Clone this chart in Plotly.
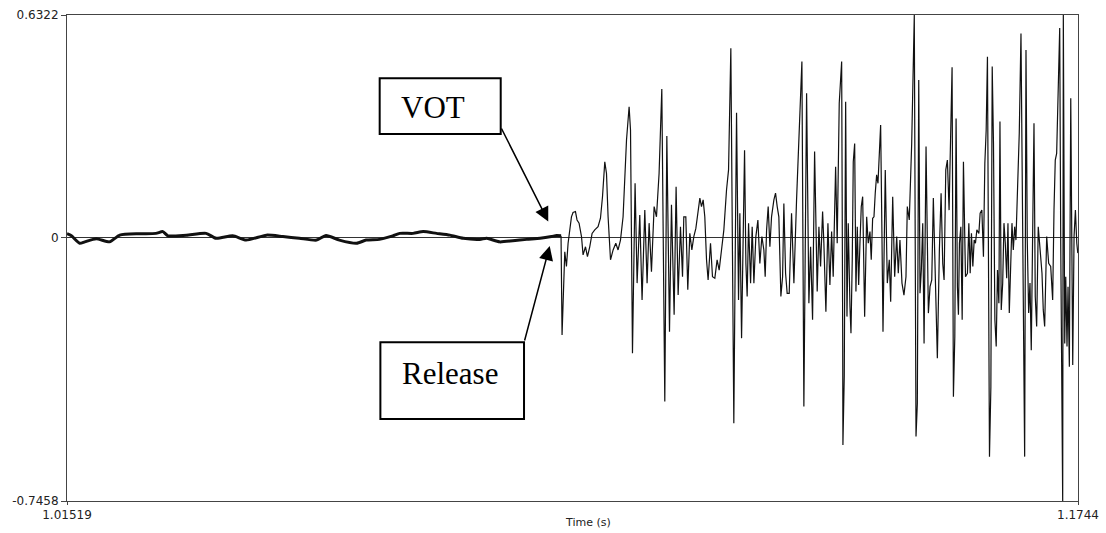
import plotly.graph_objects as go

# Waveform window (seconds)
T_START = 1.01519
T_END = 1.1744
AMP_MIN = -0.7458
AMP_MAX = 0.6322

# Stop closure: low-level noise before the release, time in ms from T_START
closure_ms = [0.0, 0.7, 2.0, 2.8, 4.6, 6.7, 8.3, 11.4, 14.0, 15.1,
              15.9, 18.8, 21.9, 23.5, 26.1, 28.2, 31.4, 34.0, 36.6, 39.3,
              40.8, 42.9, 45.6, 47.1, 49.2, 51.3, 52.4, 54.5, 56.1, 58.2,
              60.3, 62.4, 65.0, 66.1, 68.1, 70.2, 72.4, 74.5, 76.3, 77.1,
              77.8]
closure_amp = [0.012, 0.006, -0.015, -0.011, -0.002, -0.011, 0.008, 0.012, 0.013, 0.018,
               0.006, 0.008, 0.013, -0.001, 0.006, -0.006, 0.008, 0.004, -0.001, -0.006,
               0.007, -0.006, -0.015, -0.006, -0.004, 0.006, 0.013, 0.013, 0.018, 0.013,
               0.008, -0.001, -0.004, -0.001, -0.011, -0.008, -0.004, -0.001, 0.004, 0.007,
               0.006]

# Release burst and voicing: turning points of the waveform, time in ms from T_START
burst_ms = [77.96, 78.39, 78.65, 78.91, 79.17, 79.44, 79.69, 80.07, 80.32, 80.64,
            81.02, 81.27, 81.65, 81.96, 82.32, 82.69, 83.11, 83.63, 84.01, 84.33,
            84.69, 84.96, 85.21, 85.59, 86.00, 86.42, 86.78, 87.16, 87.57, 88.11,
            88.52, 88.74, 89.05, 89.46, 89.78, 90.20, 90.56, 90.99, 91.35, 91.67,
            92.04, 92.46, 92.83, 93.24, 93.67, 93.98, 94.14, 94.46, 94.88, 95.19,
            95.61, 95.92, 96.24, 96.61, 96.93, 97.13, 97.45, 97.76, 98.08, 98.40,
            98.71, 99.03, 99.39, 99.66, 99.92, 100.18, 100.44, 100.71, 100.96, 101.34,
            101.65, 102.02, 102.38, 102.70, 103.07, 103.44, 103.86, 104.18, 104.54, 104.81,
            105.01, 105.22, 105.44, 105.75, 105.96, 106.23, 106.48, 106.70, 106.91, 107.11,
            107.33, 107.65, 107.90, 108.17, 108.48, 108.80, 109.11, 109.43, 109.74, 109.95,
            110.17, 110.42, 110.69, 110.95, 111.32, 111.58, 111.84, 112.10, 112.42, 112.69,
            112.89, 113.16, 113.41, 113.73, 114.10, 114.47, 114.89, 115.30, 115.73, 116.04,
            116.47, 116.83, 117.10, 117.41, 117.73, 118.14, 118.41, 118.67, 118.99, 119.19,
            119.51, 119.83, 120.14, 120.41, 120.66, 121.04, 121.29, 121.61, 121.99, 122.15,
            122.19, 122.40, 122.62, 122.83, 123.03, 123.30, 123.46, 123.66, 123.82, 124.04,
            124.24, 124.45, 124.67, 124.87, 125.08, 125.30, 125.61, 125.93, 126.18, 126.45,
            126.65, 126.87, 127.08, 127.28, 127.50, 127.71, 127.91, 128.13, 128.34, 128.50,
            128.86, 129.18, 129.49, 129.71, 130.03, 130.34, 130.66, 130.91, 131.17, 131.49,
            131.80, 132.12, 132.33, 132.64, 133.02, 133.43, 133.70, 133.91, 134.13, 134.33,
            134.54, 134.76, 134.97, 135.28, 135.49, 135.65, 135.91, 136.18, 136.43, 136.70,
            137.06, 137.38, 137.65, 137.91, 138.12, 138.39, 138.64, 138.91, 139.18, 139.38,
            139.59, 139.81, 140.01, 140.22, 140.38, 140.54, 140.76, 140.97, 141.17, 141.49,
            141.80, 142.02, 142.23, 142.43, 142.65, 142.86, 143.06, 143.28, 143.60, 143.80,
            144.07, 144.32, 144.54, 144.75, 144.95, 145.17, 145.27, 145.49, 145.70, 145.90,
            146.12, 146.33, 146.53, 146.75, 146.92, 147.12, 147.35, 147.55, 147.76, 147.98,
            148.18, 148.39, 148.61, 148.81, 149.02, 149.24, 149.44, 149.65, 149.96, 150.23,
            150.50, 150.70, 150.81, 151.02, 151.22, 151.44, 151.65, 151.85, 152.07, 152.28,
            152.48, 152.70, 152.95, 153.22, 153.54, 153.74, 153.96, 154.28, 154.59, 154.91,
            155.22, 155.43, 155.63, 155.85, 156.06, 156.33, 156.49, 156.58, 156.80, 156.90,
            157.12, 157.28, 157.48, 157.64, 157.85, 158.07, 158.27, 158.38, 158.59, 158.80,
            159.02, 159.18]
burst_amp = [-0.275, -0.039, -0.081, -0.015, 0.023, 0.060, 0.072, 0.075, 0.051, 0.042,
             0.004, -0.048, -0.025, -0.053, -0.025, 0.013, 0.023, 0.032, 0.056, 0.117,
             0.216, 0.183, 0.060, -0.062, -0.034, -0.015, -0.034, -0.006, 0.060, 0.278,
             0.372, 0.306, -0.327, 0.155, -0.128, 0.065, -0.176, 0.079, -0.128, 0.042,
             -0.096, 0.089, 0.060, 0.183, 0.422, -0.195, -0.464, 0.289, -0.266, 0.094,
             -0.218, 0.145, -0.162, 0.032, -0.110, 0.060, 0.060, -0.147, 0.013, -0.034,
             0.004, 0.027, 0.079, 0.113, 0.089, 0.108, 0.060, -0.062, -0.119, -0.015,
             -0.110, -0.114, -0.062, -0.091, -0.034, 0.023, 0.136, 0.193, 0.538, 0.023,
             -0.525, -0.072, 0.355, -0.176, 0.070, -0.284, 0.023, 0.249, -0.072, -0.166,
             0.042, -0.128, 0.032, -0.128, 0.004, 0.051, -0.072, 0.004, -0.034, -0.110,
             0.023, 0.089, -0.025, 0.060, 0.108, 0.127, 0.089, 0.060, -0.166, -0.110,
             0.098, -0.100, -0.157, -0.157, 0.070, -0.128, 0.108, 0.278, 0.500, -0.478,
             0.410, -0.185, -0.025, -0.232, 0.245, -0.152, 0.032, -0.081, 0.075, -0.015,
             -0.209, 0.042, -0.133, 0.018, -0.110, 0.202, -0.015, 0.382, 0.500, -0.251,
             -0.587, -0.393, 0.386, -0.223, 0.042, -0.195, -0.270, -0.062, 0.216, 0.268,
             -0.152, 0.032, -0.133, -0.015, 0.089, 0.117, -0.223, 0.060, -0.015, 0.018,
             -0.062, 0.056, 0.060, 0.127, 0.179, 0.155, 0.240, 0.320, 0.004, -0.266,
             0.193, -0.128, -0.062, -0.181, 0.117, -0.110, 0.004, -0.100, -0.006, -0.128,
             -0.162, -0.110, 0.089, 0.051, 0.268, 0.6322, -0.563, -0.469, 0.448, -0.157,
             -0.091, 0.042, -0.299, 0.259, -0.015, -0.213, -0.138, -0.119, 0.113, -0.091,
             -0.341, -0.034, 0.127, -0.072, -0.119, 0.193, 0.221, 0.079, 0.278, 0.484,
             -0.450, -0.280, 0.339, -0.138, -0.218, -0.015, 0.032, -0.232, 0.216, -0.110,
             -0.100, 0.042, -0.100, 0.013, -0.081, -0.006, -0.015, 0.023, 0.013, 0.070,
             0.079, -0.053, 0.212, 0.306, 0.514, -0.251, -0.620, -0.422, 0.486, 0.268,
             -0.232, -0.308, -0.091, -0.185, 0.330, -0.204, -0.128, 0.042, -0.015, -0.114,
             0.042, -0.213, -0.053, 0.042, -0.034, 0.032, -0.006, 0.117, 0.297, 0.580,
             0.004, -0.431, -0.620, 0.533, -0.006, -0.213, -0.128, -0.318, 0.051, 0.325,
             -0.166, -0.251, 0.032, -0.025, -0.100, -0.204, -0.251, 0.004, -0.072, -0.081,
             -0.176, 0.079, 0.221, 0.240, 0.429, 0.595, -0.015, -0.337, -0.7458, 0.6322,
             -0.299, -0.110, -0.308, -0.138, -0.365, 0.396, -0.062, -0.360, 0.004, 0.079,
             -0.015, -0.043]

assert len(closure_ms) == len(closure_amp)
assert len(burst_ms) == len(burst_amp)

x_tick_vals = [T_START, T_END]
x_tick_text = ["1.01519", "1.1744"]
y_tick_vals = [AMP_MIN, 0, AMP_MAX]
y_tick_text = ["-0.7458", "0", "0.6322"]

closure_t = [T_START + m / 1000.0 for m in closure_ms]
# the burst continues from the last closure sample
burst_t = [closure_t[-1]] + [T_START + m / 1000.0 for m in burst_ms]
burst_y = [closure_amp[-1]] + burst_amp

fig = go.Figure()
fig.add_trace(go.Scatter(x=closure_t, y=closure_amp, mode="lines",
                         line=dict(color="#111111", width=3, shape="spline", smoothing=0.6),
                         hoverinfo="skip"))
fig.add_trace(go.Scatter(x=burst_t, y=burst_y, mode="lines",
                         line=dict(color="#111111", width=1.2), hoverinfo="skip"))

axis_color = "#444444"
tick_font = dict(family="DejaVu Sans", size=12, color="#222222")

fig.update_layout(
    width=1106, height=533,
    margin=dict(l=67, r=28, t=15, b=32, autoexpand=False),
    plot_bgcolor="white", paper_bgcolor="white",
    showlegend=False,
    xaxis=dict(range=[T_START, T_END], tickvals=x_tick_vals, ticktext=x_tick_text,
               ticks="outside", ticklen=3, tickcolor=axis_color, automargin=False,
               showline=True, linecolor=axis_color, linewidth=1, mirror=True,
               showgrid=False, zeroline=False, tickfont=tick_font),
    yaxis=dict(range=[AMP_MIN, AMP_MAX], tickvals=y_tick_vals, ticktext=y_tick_text,
               ticks="outside", ticklen=5, tickcolor=axis_color, automargin=False,
               showline=True, linecolor=axis_color, linewidth=1, mirror=True,
               showgrid=False, zeroline=True, zerolinecolor="#333333", zerolinewidth=1,
               tickfont=tick_font),
)

# Axis title
fig.add_annotation(text="Time (s)", xref="paper", yref="paper", x=0.515, y=-0.045,
                   xanchor="center", yanchor="middle", showarrow=False,
                   font=dict(family="DejaVu Sans", size=11, color="#222222"))

# Label boxes
box_line = dict(color="black", width=2)
fig.add_shape(type="rect", xref="x", yref="y", x0=1.06443, x1=1.08349, y0=0.2948, y1=0.4527,
              line=box_line, fillcolor="white", layer="above")
fig.add_shape(type="rect", xref="x", yref="y", x0=1.06454, x1=1.08716, y0=-0.5131, y1=-0.2957,
              line=box_line, fillcolor="white", layer="above")

label_font = dict(family="Liberation Serif", size=31, color="black")
fig.add_annotation(text="VOT", x=1.07278, y=0.3686, xref="x", yref="y",
                   showarrow=False, font=label_font, xanchor="center", yanchor="middle")
fig.add_annotation(text="Release", x=1.07546, y=-0.3856, xref="x", yref="y",
                   showarrow=False, font=label_font, xanchor="center", yanchor="middle")

# Arrows from the boxes to the waveform
arrow_style = dict(showarrow=True, arrowhead=2, arrowsize=1.9, arrowwidth=1.5,
                   arrowcolor="black", standoff=0, startstandoff=0,
                   xref="x", yref="y", axref="x", ayref="y", text="")
fig.add_annotation(x=1.09098, y=0.0468, ax=1.08349, ay=0.3147, **arrow_style)
fig.add_annotation(x=1.09121, y=-0.0227, ax=1.08719, ay=-0.2948, **arrow_style)

fig.write_html("out.html")
